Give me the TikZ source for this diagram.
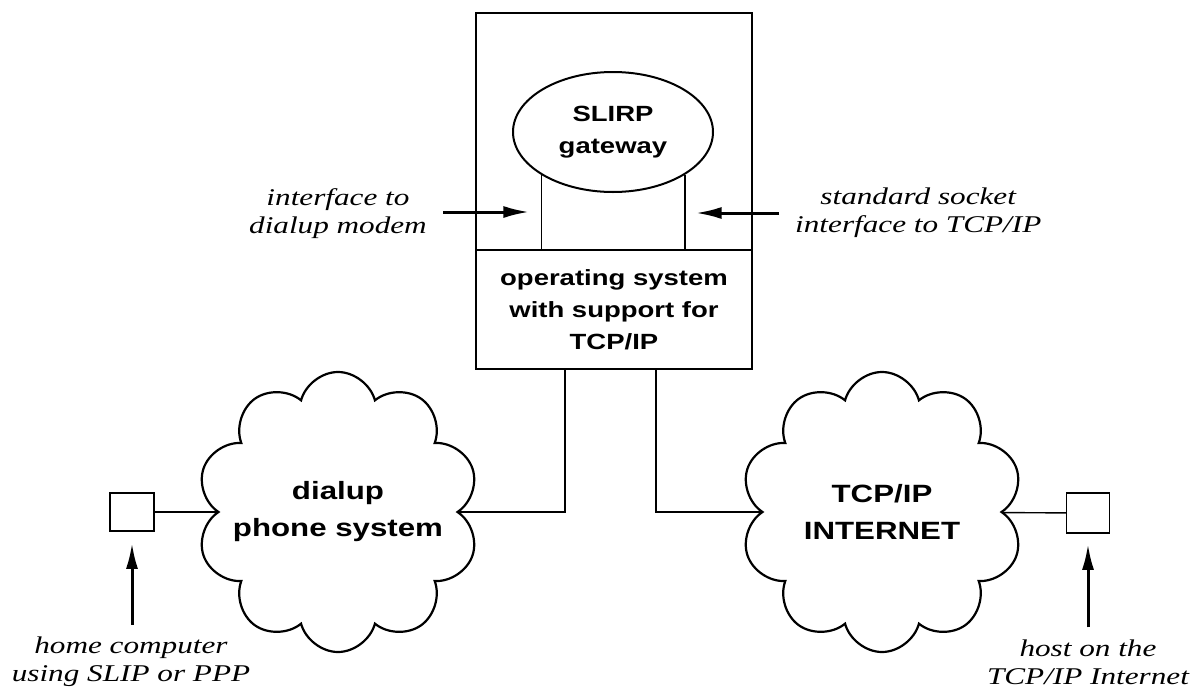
\documentclass[tikz,border=0pt]{standalone}
\usepackage{fontspec}
\setmainfont{Liberation Serif}
\newfontfamily\labfont[FakeStretch=1.3]{Liberation Serif}
\newfontfamily\bsf[FakeStretch=1.25]{Liberation Sans}
\usetikzlibrary{shapes.geometric,shapes.symbols,arrows.meta,backgrounds}
\begin{document}
\begin{tikzpicture}[x=1pt,y=-1pt,
  lab/.style={font={\labfont\itshape\fontsize{24}{28}\selectfont}, align=center, inner ysep=0pt},
  boxtxt/.style={font={\bsf\bfseries\fontsize{22}{32}\selectfont}, align=center, inner sep=0pt},
  cloudtxt/.style={font={\bsf\bfseries\fontsize{25}{37}\selectfont}, align=center, inner sep=0pt},
  frame/.style={draw, line width=2.3pt, inner sep=0pt},
  netcloud/.style={cloud, cloud puffs=10, cloud puff arc=150, cloud ignores aspect, draw, line width=2.2pt, fill=white, minimum width=283pt, minimum height=280pt, inner sep=0pt},
  comp/.style={draw, line width=1.7pt, fill=white, inner sep=0pt},
  conn/.style={line width=2.2pt},
  thinconn/.style={line width=1.4pt},
  stem/.style={line width=1.8pt},
  arr/.style={-{Latex[length=26pt,width=12pt]}, line width=3pt}
]
\useasboundingbox (0,0) rectangle (1195,691);

% gateway host
\node[frame, minimum width=276pt, minimum height=356pt] (host) at (614,191) {};
\node[frame, boxtxt, minimum width=276pt, minimum height=119pt] (os) at (614,309.5) {operating system\\with support for\\TCP/IP};
\node[ellipse, draw, line width=2pt, minimum width=200pt, minimum height=120pt, boxtxt] (gw) at (613,132) {SLIRP\\gateway};
\draw[stem] (gw.211) -- (gw.211 |- os.north);
\draw[stem] (gw.329) -- (gw.329 |- os.north);

% clouds
\node[netcloud] (cloudL) at (338,512) {};
\node[cloudtxt] (cloudLt) at (cloudL.center) {dialup\\phone system};
\node[netcloud] (cloudR) at (882,512) {};
\node[cloudtxt] (cloudRt) at (cloudR.center) {TCP/IP\\INTERNET};

% computers
\node[comp, minimum width=44pt, minimum height=38pt] (sqL) at (132,512) {};
\node[comp, minimum width=43pt, minimum height=40pt] (sqR) at (1088,513) {};

% connectors behind clouds
\begin{pgfonlayer}{background}
\draw[conn] ([xshift=-49pt]os.south) |- (cloudL.center);
\draw[conn] ([xshift=42pt]os.south) |- (cloudR.center);
\draw[thinconn] (sqL.center) -- (cloudL.center);
\draw[thinconn] (cloudR.center) -- (sqR.center);
\end{pgfonlayer}

% labels
\coordinate (ayL) at (0,212);
\coordinate (ayR) at (0,213);
\coordinate (vLa) at (gw.211 |- ayL);
\coordinate (vRa) at (gw.329 |- ayR);
\node[lab, anchor=east, inner xsep=16pt] (lblL) at (443,214) {interface to\\dialup modem};
\node[lab, anchor=west, inner xsep=16pt] (lblR) at (779,213) {standard socket\\interface to TCP/IP};
\node[lab, inner ysep=12pt] (lblH) at (131,662) {home computer\\using SLIP or PPP};
\node[lab, inner ysep=12pt] (lblI) at (1088,662) {host on the\\TCP/IP Internet};

\draw[arr, shorten >=12pt] (lblL.east |- vLa) -- (vLa);
\draw[arr, shorten >=11pt] (lblR.west |- vRa) -- (vRa);
\draw[arr, shorten >=11pt] (sqL |- lblH.north) -- (sqL.south);
\draw[arr, shorten >=10pt] (sqR |- lblI.north) -- (sqR.south);
\end{tikzpicture}
\end{document}
